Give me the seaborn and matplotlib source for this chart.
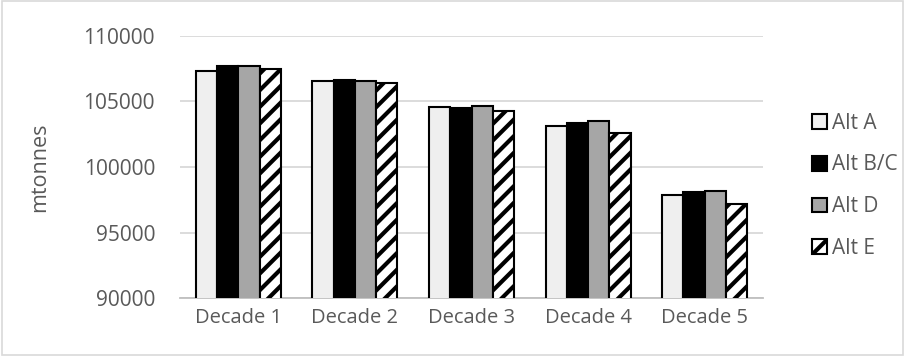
import matplotlib
matplotlib.use("Agg")
import matplotlib.pyplot as plt
import seaborn as sns
import pandas as pd
from matplotlib.patches import Patch, Rectangle

decades = ["Decade 1", "Decade 2", "Decade 3", "Decade 4", "Decade 5"]
alternatives = ["Alt A", "Alt B/C", "Alt D", "Alt E"]
alt_a = [107350, 106600, 104580, 103150, 97850]
alt_bc = [107700, 106620, 104520, 103380, 98100]
alt_d = [107700, 106600, 104640, 103510, 98180]
alt_e = [107470, 106380, 104300, 102620, 97150]

rows = []
for name, vals in zip(alternatives, [alt_a, alt_bc, alt_d, alt_e]):
    for d, v in zip(decades, vals):
        rows.append({"Decade": d, "Alt": name, "mtonnes": v})
df = pd.DataFrame(rows)

sns.set_theme(style="white")
plt.rcParams['font.family'] = ['Open Sans', 'DejaVu Sans']
plt.rcParams['hatch.linewidth'] = 3.0
plt.rcParams['hatch.color'] = 'black'

colors = ["#EFEFEF", "#000000", "#A6A6A6", "#FFFFFF"]
fig = plt.figure(figsize=(9.05, 3.56), dpi=100)
ax = fig.add_axes([0.1989, 0.1629, 0.6442, 0.736])

sns.barplot(data=df, x="Decade", y="mtonnes", hue="Alt", palette=colors,
            width=0.73, gap=0.0, edgecolor="black", linewidth=1.5,
            legend=False, ax=ax, zorder=3)

for cont, name in zip(ax.containers, alternatives):
    for bar in cont:
        if name == "Alt E":
            bar.set_hatch("//")

ax.set_ylim(90000, 110000)
ax.set_yticks([90000, 95000, 100000, 105000, 110000])
ax.yaxis.grid(True, color="#D9D9D9", linewidth=1.3, zorder=0)
ax.set_axisbelow(True)
for s in ["top", "right", "left"]:
    ax.spines[s].set_visible(False)
ax.spines["bottom"].set_color("#BFBFBF")
ax.spines["bottom"].set_linewidth(1.3)
ax.tick_params(axis="y", length=0, labelsize=15, labelcolor="#595959", pad=18)
ax.tick_params(axis="x", length=0, labelsize=14.5, labelcolor="#595959", pad=7)
ax.set_xlabel("")
ax.set_ylabel("mtonnes", fontsize=15.5, color="#595959", labelpad=24)

handles = []
for c, name in zip(colors, alternatives):
    h = Patch(facecolor=c, edgecolor="black", linewidth=1.5,
              hatch="//" if name == "Alt E" else None, label=name)
    handles.append(h)
leg = fig.legend(handles=handles, loc="center left", bbox_to_anchor=(0.877, 0.478),
                 frameon=False, fontsize=15, labelspacing=1.0,
                 handlelength=0.72, handleheight=0.72, handletextpad=0.2)
for t in leg.get_texts():
    t.set_color("#595959")

fig.patches.append(Rectangle((0.002, 0.003), 0.996, 0.994, transform=fig.transFigure,
                             fill=False, edgecolor="#D9D9D9", linewidth=1.2))

fig.savefig("out.png", dpi=100)
